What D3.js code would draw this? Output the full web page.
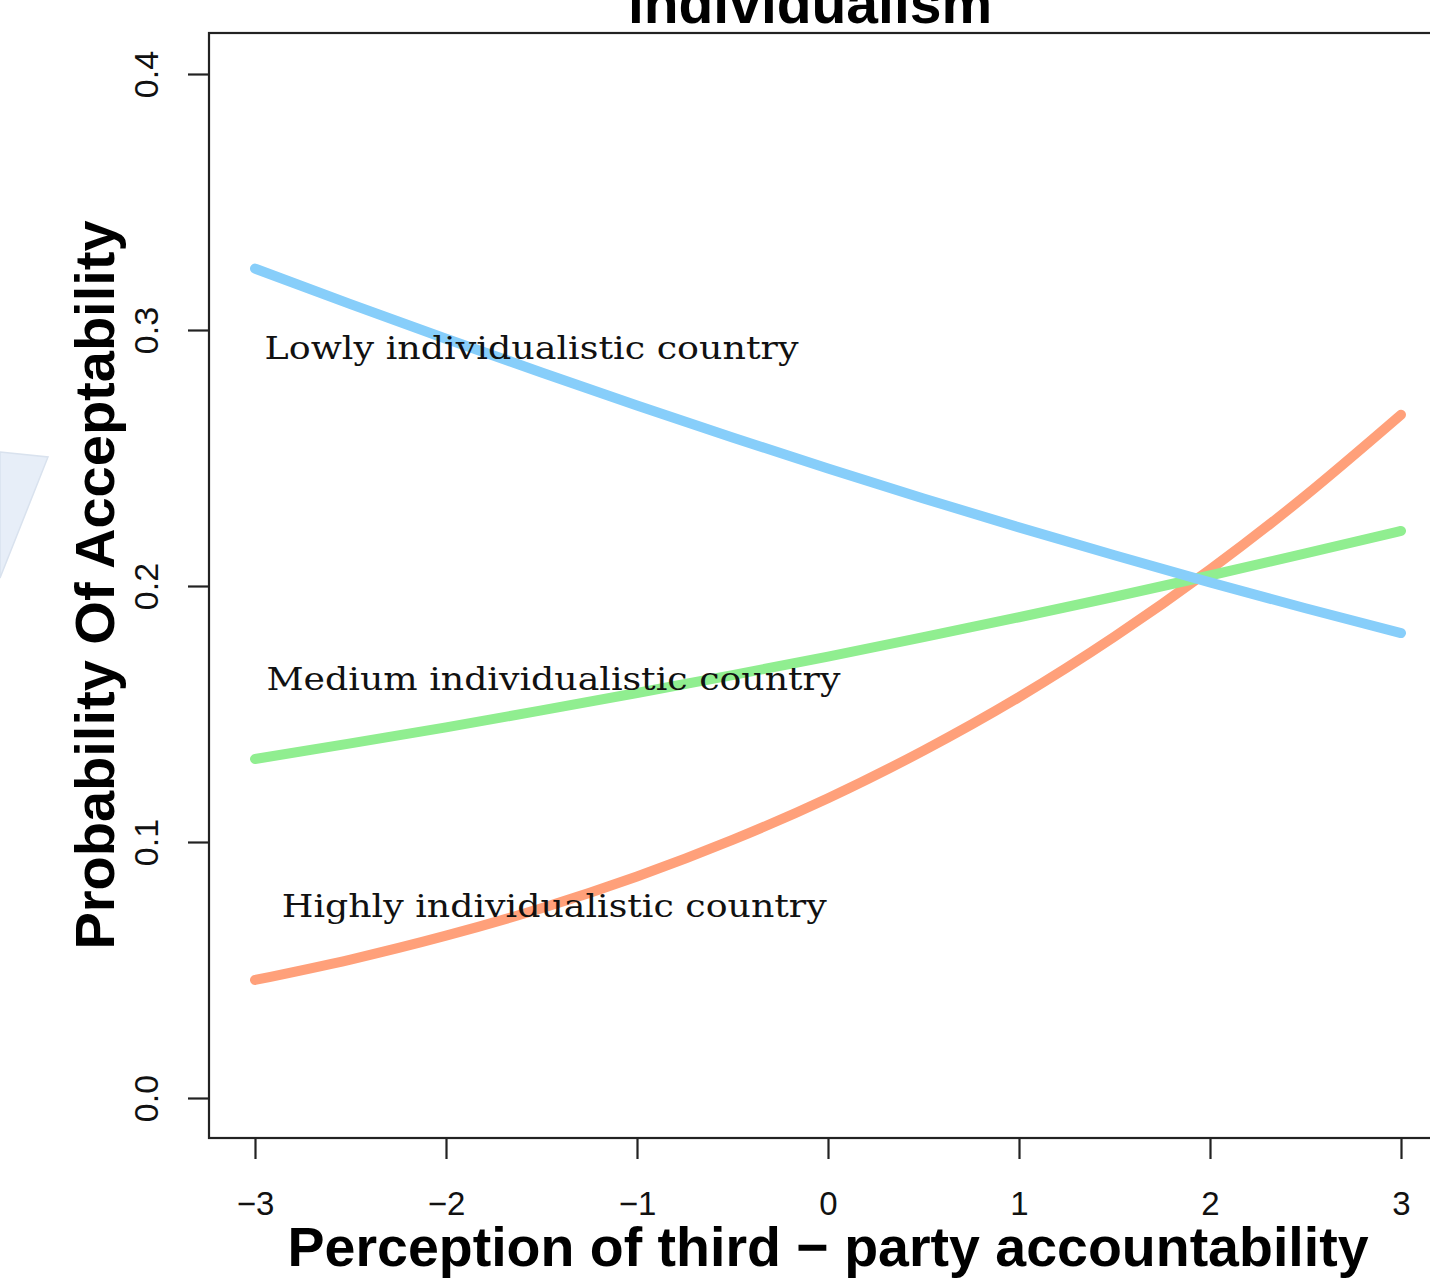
<!DOCTYPE html>
<html>
<head>
<meta charset="utf-8">
<script src="https://cdn.jsdelivr.net/npm/d3@7"></script>
<style>
  html, body { margin: 0; padding: 0; background: #fff; }
  svg { display: block; }
  .sans { font-family: "Liberation Sans", Arial, sans-serif; }
  .serif { font-family: "DejaVu Serif", "Liberation Serif", serif; }
</style>
</head>
<body>
<svg id="chart" width="1430" height="1284"></svg>
<script>
// Predicted probability of acceptability by perceived third-party accountability
const accountability = [-3, -2.5, -2, -1.5, -1, -0.5, 0, 0.5, 1, 1.5, 2, 2.5, 3];

const lowlyIndividualistic  = [0.3240, 0.3101, 0.2966, 0.2834, 0.2705, 0.2580, 0.2459, 0.2342, 0.2229, 0.2120, 0.2014, 0.1913, 0.1816];
const mediumIndividualistic = [0.1324, 0.1385, 0.1448, 0.1514, 0.1582, 0.1652, 0.1724, 0.1800, 0.1878, 0.1958, 0.2041, 0.2127, 0.2215];
const highlyIndividualistic = [0.0461, 0.0541, 0.0634, 0.0741, 0.0865, 0.1008, 0.1171, 0.1357, 0.1566, 0.1802, 0.2064, 0.2353, 0.2669];

const xTicks = [-3, -2, -1, 0, 1, 2, 3];
const yTicks = [0, 0.1, 0.2, 0.3, 0.4];

const seriesNames  = ["Highly individualistic country", "Medium individualistic country", "Lowly individualistic country"];
const seriesColors = ["#FFA07A", "#90EE90", "#87CEFA"];
const seriesValues = [highlyIndividualistic, mediumIndividualistic, lowlyIndividualistic];

// label anchor points in data units (x, y)
const labelX = [-2.86, -2.94, -2.95];
const labelY = [0.0708, 0.1594, 0.2887];
const labelWidth = [545, 574, 534];

const titleText = "individualism";
const xTitle = "Perception of third \u2212 party accountability";
const yTitle = "Probability Of Acceptability";

const svg = d3.select("#chart");

// side decoration on the left margin
svg.append("polygon")
  .attr("points", "0,452 48,457 0,578")
  .attr("fill", "#e7eef8")
  .attr("stroke", "#d9e2ee")
  .attr("stroke-width", 1.5);

const box = { left: 209, top: 33, right: 1450, bottom: 1138 };

const x = d3.scaleLinear().domain([-3, 3]).range([255, 1401]);
const y = d3.scaleLinear().domain([0, 0.4]).range([1098, 74]);

// curves
const line = d3.line()
  .x(d => x(d[0]))
  .y(d => y(d[1]))
  .curve(d3.curveNatural);

seriesValues.forEach((vals, i) => {
  svg.append("path")
    .datum(accountability.map((a, k) => [a, vals[k]]))
    .attr("fill", "none")
    .attr("stroke", seriesColors[i])
    .attr("stroke-width", 10)
    .attr("stroke-linecap", "round")
    .attr("stroke-linejoin", "round")
    .attr("d", line);
});

// plot frame
svg.append("rect")
  .attr("x", box.left).attr("y", box.top)
  .attr("width", box.right - box.left).attr("height", box.bottom - box.top)
  .attr("fill", "none").attr("stroke", "#222").attr("stroke-width", 2.2);

// x axis
const xAxis = svg.append("g")
  .attr("class", "sans")
  .attr("transform", `translate(0,${box.bottom})`)
  .call(d3.axisBottom(x).tickValues(xTicks).tickSize(21).tickFormat(d3.format("d")));
xAxis.select(".domain").remove();
xAxis.selectAll(".tick line").attr("stroke", "#222").attr("stroke-width", 2.2);
xAxis.selectAll(".tick text")
  .attr("y", 77).attr("dy", null)
  .attr("font-size", 33).attr("font-family", "Liberation Sans, Arial, sans-serif")
  .attr("fill", "#111");

// y axis
const yAxis = svg.append("g")
  .attr("class", "sans")
  .attr("transform", `translate(${box.left},0)`)
  .call(d3.axisLeft(y).tickValues(yTicks).tickSize(21).tickFormat(d3.format(".1f")));
yAxis.select(".domain").remove();
yAxis.selectAll(".tick line").attr("stroke", "#222").attr("stroke-width", 2.2);
yAxis.selectAll(".tick text")
  .attr("x", null).attr("dy", null)
  .attr("transform", "translate(-51,0) rotate(-90)")
  .attr("text-anchor", "middle")
  .attr("font-size", 34).attr("font-family", "Liberation Sans, Arial, sans-serif")
  .attr("fill", "#111");

// series labels
seriesNames.forEach((name, i) => {
  svg.append("text")
    .attr("class", "serif")
    .attr("x", x(labelX[i]))
    .attr("y", y(labelY[i]))
    .attr("font-size", 31)
    .attr("textLength", labelWidth[i])
    .attr("lengthAdjust", "spacingAndGlyphs")
    .attr("fill", "#111")
    .text(name);
});

// titles
svg.append("text")
  .attr("class", "sans")
  .attr("x", 810).attr("y", 23)
  .attr("text-anchor", "middle")
  .attr("font-size", 57).attr("font-weight", "bold")
  .text(titleText);

svg.append("text")
  .attr("class", "sans")
  .attr("x", 828).attr("y", 1266)
  .attr("text-anchor", "middle")
  .attr("font-size", 55.5).attr("font-weight", "bold")
  .attr("textLength", 1081)
  .attr("lengthAdjust", "spacing")
  .text(xTitle);

svg.append("text")
  .attr("class", "sans")
  .attr("transform", "translate(114,585) rotate(-90)")
  .attr("text-anchor", "middle")
  .attr("font-size", 56).attr("font-weight", "bold")
  .text(yTitle);
</script>
</body>
</html>
